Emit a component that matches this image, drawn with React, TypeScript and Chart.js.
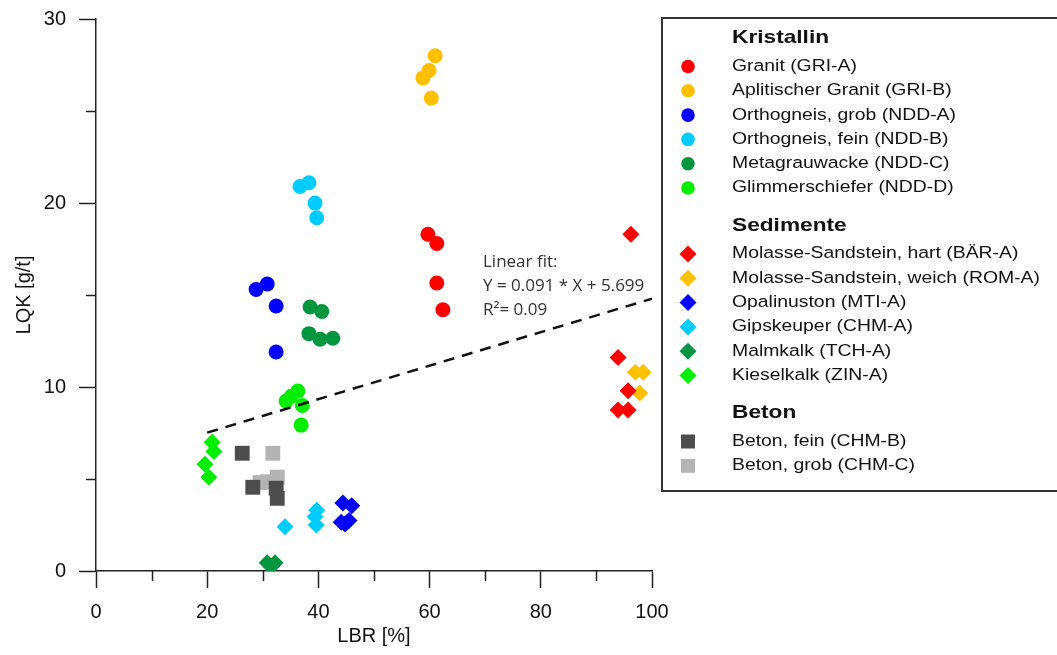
import React, { useEffect, useRef } from "react";
import { Chart, registerables } from "chart.js";
Chart.register(...registerables);

// ---------- data ----------
const groupNames = ["Kristallin", "Sedimente", "Beton"];

const seriesLabels = [
  "Granit (GRI-A)",
  "Aplitischer Granit (GRI-B)",
  "Orthogneis, grob (NDD-A)",
  "Orthogneis, fein (NDD-B)",
  "Metagrauwacke (NDD-C)",
  "Glimmerschiefer (NDD-D)",
  "Molasse-Sandstein, hart (BÄR-A)",
  "Molasse-Sandstein, weich (ROM-A)",
  "Opalinuston (MTI-A)",
  "Gipskeuper (CHM-A)",
  "Malmkalk (TCH-A)",
  "Kieselkalk (ZIN-A)",
  "Beton, fein (CHM-B)",
  "Beton, grob (CHM-C)",
];
const seriesGroups = [0, 0, 0, 0, 0, 0, 1, 1, 1, 1, 1, 1, 2, 2];
const seriesColors = [
  "#ff0000", "#ffc000", "#0000ff", "#00ccff", "#00963f", "#00ee00",
  "#ff0000", "#ffc000", "#0000ff", "#00ccff", "#00963f", "#00ee00",
  "#4d4d4d", "#b3b3b3",
];
const seriesShapes = [
  "circle", "circle", "circle", "circle", "circle", "circle",
  "rectRot", "rectRot", "rectRot", "rectRot", "rectRot", "rectRot",
  "rect", "rect",
];

const granitX = [59.7, 61.3, 61.3, 62.4];
const granitY = [18.3, 17.8, 15.65, 14.2];
const aplitX = [61.0, 59.9, 58.8, 60.3];
const aplitY = [28.0, 27.2, 26.8, 25.7];
const orthoGrobX = [28.8, 30.8, 32.4, 32.4];
const orthoGrobY = [15.3, 15.6, 14.4, 11.9];
const orthoFeinX = [36.7, 38.3, 39.4, 39.7];
const orthoFeinY = [20.9, 21.1, 20.0, 19.2];
const metaX = [38.5, 40.6, 38.3, 40.3, 42.6];
const metaY = [14.35, 14.1, 12.9, 12.6, 12.65];
const glimmerX = [36.3, 35.1, 34.2, 37.1, 36.9];
const glimmerY = [9.78, 9.5, 9.24, 9.0, 7.93];
const molHartX = [96.2, 93.9, 95.7, 93.9, 95.7];
const molHartY = [18.3, 11.6, 9.8, 8.75, 8.75];
const molWeichX = [97.0, 98.4, 97.8];
const molWeichY = [10.8, 10.8, 9.67];
const opalX = [44.4, 46.0, 44.1, 45.5, 44.8];
const opalY = [3.7, 3.55, 2.65, 2.75, 2.55];
const gipsX = [39.7, 39.4, 39.6, 34.0];
const gipsY = [3.3, 2.95, 2.5, 2.4];
const malmX = [30.8, 32.2, 31.5];
const malmY = [0.45, 0.45, 0.25];
const kieselX = [20.9, 21.2, 19.6, 20.3];
const kieselY = [7.0, 6.5, 5.8, 5.1];
const betonFeinX = [26.3, 28.2, 32.6, 32.4];
const betonFeinY = [6.4, 4.55, 3.95, 4.5];
const betonGrobX = [31.8, 29.5, 30.8, 32.6];
const betonGrobY = [6.4, 4.8, 4.85, 5.1];

const seriesX = [granitX, aplitX, orthoGrobX, orthoFeinX, metaX, glimmerX, molHartX, molWeichX, opalX, gipsX, malmX, kieselX, betonFeinX, betonGrobX];
const seriesY = [granitY, aplitY, orthoGrobY, orthoFeinY, metaY, glimmerY, molHartY, molWeichY, opalY, gipsY, malmY, kieselY, betonFeinY, betonGrobY];

// linear fit endpoints
const fitX = [20, 100];
const fitY = [7.52, 14.8];
const fitText = ["Linear fit:", "Y = 0.091 * X + 5.699", "R\u00b2= 0.09"];
const fitTextAnchor = { x: 69.6, y: 16.8 };

const xTickValues = [0, 20, 40, 60, 80, 100];
const xMinorValues = [10, 30, 50, 70, 90];
const yTickValues = [0, 10, 20, 30];
const yMinorValues = [5, 15, 25];

const xTitle = "LBR [%]";
const yTitle = "LQK [g/t]";

// ---------- helpers ----------
function radiusFor(shape: string) {
  if (shape === "circle") return 7.5;
  if (shape === "rectRot") return 8.5;
  return 10.5;
}

function drawMarker(ctx: CanvasRenderingContext2D, shape: string, x: number, y: number, color: string, scale: number) {
  ctx.save();
  ctx.fillStyle = color;
  ctx.beginPath();
  if (shape === "circle") {
    ctx.arc(x, y, 6.8 * scale, 0, Math.PI * 2);
  } else if (shape === "rectRot") {
    const r = 8.5 * scale;
    ctx.moveTo(x, y - r);
    ctx.lineTo(x + r, y);
    ctx.lineTo(x, y + r);
    ctx.lineTo(x - r, y);
    ctx.closePath();
  } else {
    const h = 7 * scale;
    ctx.rect(x - h, y - h, 2 * h, 2 * h);
  }
  ctx.fill();
  ctx.restore();
}

const legendPlugin = {
  id: "groupLegend",
  afterDraw(chart: any) {
    const ctx: CanvasRenderingContext2D = chart.ctx;
    ctx.save();
    ctx.strokeStyle = "#333";
    ctx.lineWidth = 2;
    ctx.strokeRect(662, 18, 420, 473);
    const markerX = 688;
    const textX = 732;
    let y = 38;
    for (let g = 0; g < groupNames.length; g++) {
      ctx.save();
      ctx.translate(textX, y);
      ctx.scale(1.22, 1);
      ctx.font = "bold 18.6px 'Liberation Sans', Arial, sans-serif";
      ctx.fillStyle = "#111";
      ctx.textBaseline = "middle";
      ctx.textAlign = "left";
      ctx.fillText(groupNames[g], 0, 0);
      ctx.restore();
      y += 28.5;
      const idx = seriesLabels.map((_, i) => i).filter((i) => seriesGroups[i] === g);
      idx.forEach((i, k) => {
        drawMarker(ctx, seriesShapes[i], markerX, y, seriesColors[i], 1);
        ctx.save();
        ctx.translate(textX, y);
        ctx.scale(1.19, 1);
        ctx.font = "16.3px 'Liberation Sans', Arial, sans-serif";
        ctx.fillStyle = "#111";
        ctx.textBaseline = "middle";
        ctx.textAlign = "left";
        ctx.fillText(seriesLabels[i], 0, 0);
        ctx.restore();
        if (k < idx.length - 1) y += 24.3;
      });
      y += 37.5;
    }
    ctx.restore();
  },
};

const extrasPlugin = {
  id: "extras",
  afterDraw(chart: any) {
    const ctx: CanvasRenderingContext2D = chart.ctx;
    const xs = chart.scales.x;
    const ys = chart.scales.y;
    ctx.save();
    ctx.strokeStyle = "#222";
    ctx.lineWidth = 1.5;
    xMinorValues.forEach((v) => {
      const px = Math.round(xs.getPixelForValue(v)) + 0.5;
      ctx.beginPath();
      ctx.moveTo(px, ys.bottom);
      ctx.lineTo(px, ys.bottom + 10);
      ctx.stroke();
    });
    yMinorValues.forEach((v) => {
      const py = Math.round(ys.getPixelForValue(v)) + 0.5;
      ctx.beginPath();
      ctx.moveTo(xs.left, py);
      ctx.lineTo(xs.left - 10, py);
      ctx.stroke();
    });
    ctx.font = "17px 'Open Sans', sans-serif";
    ctx.fillStyle = "#333";
    ctx.textBaseline = "middle";
    ctx.textAlign = "left";
    const ax = xs.getPixelForValue(fitTextAnchor.x);
    const ay = ys.getPixelForValue(fitTextAnchor.y);
    fitText.forEach((t, i) => ctx.fillText(t, ax, ay + i * 24.3));
    ctx.restore();
  },
};

export default function App() {
  const ref = useRef<HTMLCanvasElement | null>(null);
  useEffect(() => {
    if (!ref.current) return;
    const scatterSets = seriesLabels.map((label, i) => ({
      type: "scatter" as const,
      label,
      data: seriesX[i].map((x, j) => ({ x, y: seriesY[i][j] })),
      backgroundColor: seriesColors[i],
      borderColor: seriesColors[i],
      borderWidth: 0,
      pointStyle: seriesShapes[i],
      pointRadius: radiusFor(seriesShapes[i]),
      pointHoverRadius: radiusFor(seriesShapes[i]),
      order: 1,
    }));
    const fitSet = {
      type: "line" as const,
      label: "Linear fit",
      data: fitX.map((x, j) => ({ x, y: fitY[j] })),
      borderColor: "#111",
      borderWidth: 2.5,
      borderDash: [11, 8],
      pointRadius: 0,
      fill: false,
      order: 0,
    };
    const tickFont = { family: "'Liberation Sans', Arial, sans-serif", size: 20 };
    const chart = new Chart(ref.current, {
      type: "scatter",
      data: { datasets: [...scatterSets, fitSet] as any },
      options: {
        animation: false,
        responsive: false,
        maintainAspectRatio: false,
        layout: { padding: { left: 0, right: 405, top: 19, bottom: 0 } },
        plugins: { legend: { display: false }, tooltip: { enabled: false }, title: { display: false } },
        scales: {
          x: {
            type: "linear",
            min: 0,
            max: 100,
            afterFit: (s: any) => { s.height = 84; s.paddingLeft = 0; s.paddingRight = 0; },
            afterBuildTicks: (s: any) => { s.ticks = xTickValues.map((v) => ({ value: v })); },
            ticks: { font: tickFont, color: "#111", padding: 12, autoSkip: false, maxRotation: 0 },
            grid: { drawOnChartArea: false, drawTicks: true, tickLength: 17, tickColor: "#222", tickWidth: 1.5 },
            border: { display: true, color: "#222", width: 1.5 },
            title: { display: true, text: xTitle, font: tickFont, color: "#111", padding: { top: 0, bottom: 7 } },
          },
          y: {
            type: "linear",
            min: 0,
            max: 30,
            afterFit: (s: any) => { s.width = 96; s.paddingTop = 0; s.paddingBottom = 0; },
            afterBuildTicks: (s: any) => { s.ticks = yTickValues.map((v) => ({ value: v })); },
            ticks: { font: tickFont, color: "#111", padding: 13, autoSkip: false },
            grid: { drawOnChartArea: false, drawTicks: true, tickLength: 17, tickColor: "#222", tickWidth: 1.5 },
            border: { display: true, color: "#222", width: 1.5 },
            title: { display: true, text: yTitle, font: tickFont, color: "#111", padding: { top: 12, bottom: 0 } },
          },
        },
      },
      plugins: [extrasPlugin, legendPlugin],
    });
    return () => chart.destroy();
  }, []);
  return (
    <div style={{ position: "absolute", left: 0, top: 0, width: 1057, height: 655, background: "#fff" }}>
      <canvas ref={ref} width={1057} height={655} style={{ display: "block", width: 1057, height: 655 }} />
    </div>
  );
}
